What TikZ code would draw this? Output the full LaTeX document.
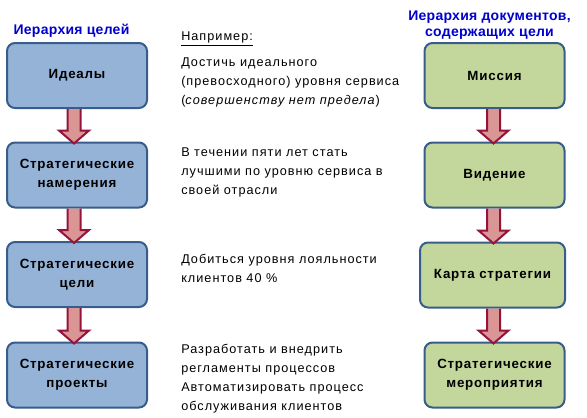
\documentclass[tikz,border=0pt]{standalone}
\usepackage{fontspec}
\setmainfont{Liberation Sans}
\usetikzlibrary{calc}
\definecolor{bfill}{RGB}{149,179,215}
\definecolor{gfill}{RGB}{195,214,155}
\definecolor{bline}{RGB}{56,93,138}
\definecolor{afill}{RGB}{217,150,148}
\definecolor{aline}{RGB}{150,20,60}
\definecolor{ttl}{RGB}{0,0,204}
\newcommand{\barr}[3]{%
  \path[fill=afill, draw=aline, line width=1.5pt]
    ($(#1.south)+(#3-6.5,0)$) -- ($(#2.north -| #1.south)+(#3-6.5,-11)$) -- ($(#2.north -| #1.south)+(#3-15,-11)$)
    -- ($(#2.north -| #1.south)+(#3,2)$) -- ($(#2.north -| #1.south)+(#3+15,-11)$) -- ($(#2.north -| #1.south)+(#3+6.5,-11)$)
    -- ($(#1.south)+(#3+6.5,0)$);}
\begin{document}
\begin{tikzpicture}[x=0.75pt,y=-0.75pt,
  box/.style={draw=bline, line width=1.5pt, rounded corners=6pt, minimum width=105pt,
    minimum height=48.75pt, align=center, inner sep=0pt,
    font=\bfseries\fontsize{10}{14}\selectfont\addfontfeatures{LetterSpace=6}},
  lbox/.style={box, fill=bfill},
  rbox/.style={box, fill=gfill},
  title/.style={text=ttl, font=\bfseries\fontsize{10.5}{12}\selectfont\addfontfeatures{LetterSpace=2}, align=center, inner sep=0pt},
  note/.style={anchor=north west, align=left, inner sep=0pt, font=\fontsize{9.5}{14.25}\selectfont\addfontfeatures{LetterSpace=8}}]
\useasboundingbox (0,0) rectangle (587,418);
% titles
\node[title] (t1) at (71.5,31) {Иерархия целей};
\node[title] (t2) at (489.5,25) {Иерархия документов,\\содержащих цели};
% left boxes
\node[lbox] (l1) at (77,75.5) {Идеалы};
\node[lbox] (l2) at (77,175) {Стратегические\\намерения};
\node[lbox] (l3) at (77,274.5) {Стратегические\\цели};
\node[lbox] (l4) at (77,375) {Стратегические\\проекты};
% right boxes
\node[rbox] (r1) at (494.5,75.5) {Миссия};
\node[rbox] (r2) at (494.5,175) {Видение};
\node[rbox, minimum width=108.75pt] (r3) at (492.5,275) {Карта стратегии};
\node[rbox] (r4) at (494.5,375) {Стратегические\\мероприятия};
% arrows
\barr{l1}{l2}{-3}
\barr{l2}{l3}{-3}
\barr{l3}{l4}{-3}
\barr{r1}{r2}{-1}
\barr{r2}{r3}{-1}
\barr{r3}{r4}{1}
% notes
\node[note] (n0) at (181,32) {\underline{Например:}};
\node[note] (n1) at (181,58) {Достичь идеального\\(превосходного) уровня сервиса\\(\textit{совершенству нет предела})};
\node[note] (n2) at (181,148) {В течении пяти лет стать\\лучшими по уровню сервиса в\\своей отрасли};
\node[note] (n3) at (181,254) {Добиться уровня лояльности\\клиентов 40 \%};
\node[note] (n4) at (181,344) {Разработать и внедрить\\регламенты процессов\\Автоматизировать процесс\\обслуживания клиентов};
\end{tikzpicture}
\end{document}
